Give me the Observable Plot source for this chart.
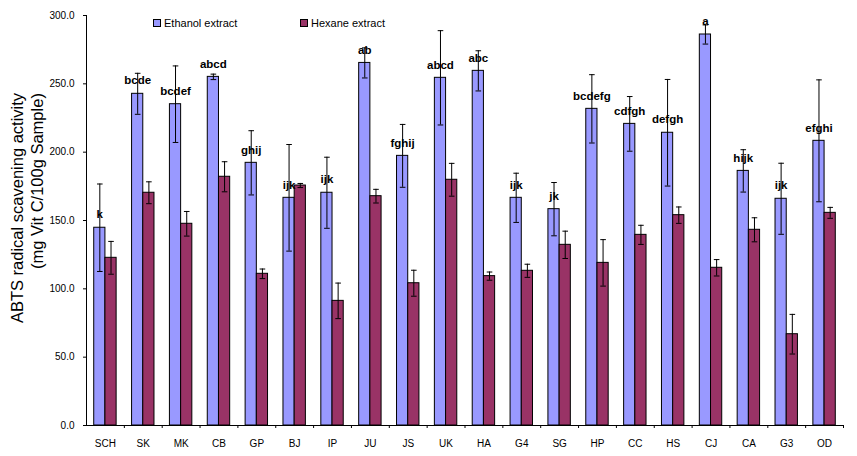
<!DOCTYPE html>
<html>
<head>
<meta charset="utf-8">
<script src="https://cdn.jsdelivr.net/npm/d3@7"></script>
<script src="https://cdn.jsdelivr.net/npm/@observablehq/plot@0.6"></script>
<style>
  html, body { margin: 0; padding: 0; background: white; }
  #chart { position: relative; width: 857px; height: 456px; }
  .legend { position: absolute; top: 17px; font-family: 'Liberation Sans', Arial, sans-serif; font-size: 11px; color: #000; display: flex; align-items: center; white-space: nowrap; }
  .legend .sw { display: inline-block; width: 6px; height: 6px; border: 1px solid #000; margin-right: 3px; }
</style>
</head>
<body>
<div id="chart"></div>
<script>
const categories = ["SCH","SK","MK","CB","GP","BJ","IP","JU","JS","UK","HA","G4","SG","HP","CC","HS","CJ","CA","G3","OD"];
const ethanol    = [144.7,242.7,235.1,255.1,192.2,166.6,170.3,265.3,197.3,254.4,259.5,166.6,158.3,231.7,220.7,214.2,286.1,186.3,165.9,208.3];
const ethanolErr = [32,15,28,2,23.5,39,26,11,23,34.5,14.7,18,19.5,25,20,39,7,15.5,26,44.6];
const hexane     = [122.7,170.3,147.6,182.0,111,175.6,91.2,167.8,104.1,179.8,109.3,113.2,132.2,119,139.5,153.9,115.4,143.2,66.8,155.6];
const hexaneErr  = [12,8,9,11,3.5,1.5,13,5,9.5,12,3,4.8,10,17,7,6,6,8.8,14.5,4];
const letters    = ["k","bcde","bcdef","abcd","ghij","ijk","ijk","ab","fghij","abcd","abc","ijk","jk","bcdefg","cdfgh","defgh","a","hijk","ijk","efghi"];
const seriesNames = ["Ethanol extract","Hexane extract"];
const seriesColors = ["#9999FF","#993366"];
const yTicks = [0,50,100,150,200,250,300];

const rows = categories.map((c, i) => ({
  cat: c, eth: ethanol[i], ethErr: ethanolErr[i], hex: hexane[i], hexErr: hexaneErr[i], letter: letters[i]
}));

const W = 857, H = 456, ML = 86, MR = 14, MT = 15, MB = 31;
const step = (W - ML - MR) / categories.length;
const pInner = 0.704;
const bw = step * (1 - pInner);
const half = bw / 2;

const cap = {
  draw(context, size) {
    const r = Math.sqrt(size / Math.PI);
    context.moveTo(-r, 0);
    context.lineTo(r, 0);
  }
};

const plot = Plot.plot({
  width: W, height: H,
  marginLeft: ML, marginRight: MR, marginTop: MT, marginBottom: MB,
  style: { fontFamily: "'Liberation Sans Narrow', 'Liberation Sans', Arial, sans-serif", fontSize: "10px", background: "white", color: "black" },
  x: { domain: categories, round: false, paddingInner: pInner, paddingOuter: pInner / 2, label: null, tickSize: 0, tickPadding: 14, line: true },
  y: { domain: [0, 300], ticks: yTicks, tickFormat: d => d.toFixed(1), label: null, tickSize: 3, tickPadding: 9, line: true },
  marks: [
    Plot.barY(rows, { x: "cat", y: "eth", dx: -half, fill: seriesColors[0], stroke: "black", strokeWidth: 1 }),
    Plot.barY(rows, { x: "cat", y: "hex", dx: half, fill: seriesColors[1], stroke: "black", strokeWidth: 1 }),
    Plot.ruleX(rows, { x: "cat", y1: d => d.eth - d.ethErr, y2: d => d.eth + d.ethErr, dx: -half, stroke: "black", strokeWidth: 1 }),
    Plot.ruleX(rows, { x: "cat", y1: d => d.hex - d.hexErr, y2: d => d.hex + d.hexErr, dx: half, stroke: "black", strokeWidth: 1 }),
    Plot.dot(rows, { x: "cat", y: d => d.eth + d.ethErr, dx: -half, symbol: cap, r: 2.8, stroke: "black", fill: "none", strokeWidth: 1 }),
    Plot.dot(rows, { x: "cat", y: d => d.eth - d.ethErr, dx: -half, symbol: cap, r: 2.8, stroke: "black", fill: "none", strokeWidth: 1 }),
    Plot.dot(rows, { x: "cat", y: d => d.hex + d.hexErr, dx: half, symbol: cap, r: 2.8, stroke: "black", fill: "none", strokeWidth: 1 }),
    Plot.dot(rows, { x: "cat", y: d => d.hex - d.hexErr, dx: half, symbol: cap, r: 2.8, stroke: "black", fill: "none", strokeWidth: 1 }),
    Plot.text(rows, { x: "cat", y: "eth", text: "letter", dx: -half, dy: -13, fontWeight: "bold", fontSize: 11.5, fontFamily: "'Liberation Sans', Arial, sans-serif", fill: "black" }),
    Plot.ruleX(categories, { x: d => d, y1: 0, y2: -2.2, dx: step / 2, stroke: "black", strokeWidth: 1 })
  ]
});

const chart = document.getElementById("chart");
chart.appendChild(plot);

// y-axis title (two lines)
const svg = d3.select(plot);
const ylab = [
  { text: "ABTS radical scavening activity", x: 23, y: 208 },
  { text: "(mg Vit C/100g Sample)", x: 43, y: 181 }
];
svg.append("g").selectAll("text").data(ylab).join("text")
  .attr("transform", d => `translate(${d.x},${d.y}) rotate(-90)`)
  .attr("text-anchor", "middle")
  .attr("font-family", "'Liberation Sans', Arial, sans-serif")
  .attr("font-size", 16.5)
  .attr("fill", "black")
  .text(d => d.text);

// legend
const legendPos = [153, 300];
seriesNames.forEach((name, i) => {
  const div = document.createElement("div");
  div.className = "legend";
  div.style.left = legendPos[i] + "px";
  const sw = document.createElement("span");
  sw.className = "sw";
  sw.style.background = seriesColors[i];
  div.appendChild(sw);
  div.appendChild(document.createTextNode(name));
  chart.appendChild(div);
});
</script>
</body>
</html>
